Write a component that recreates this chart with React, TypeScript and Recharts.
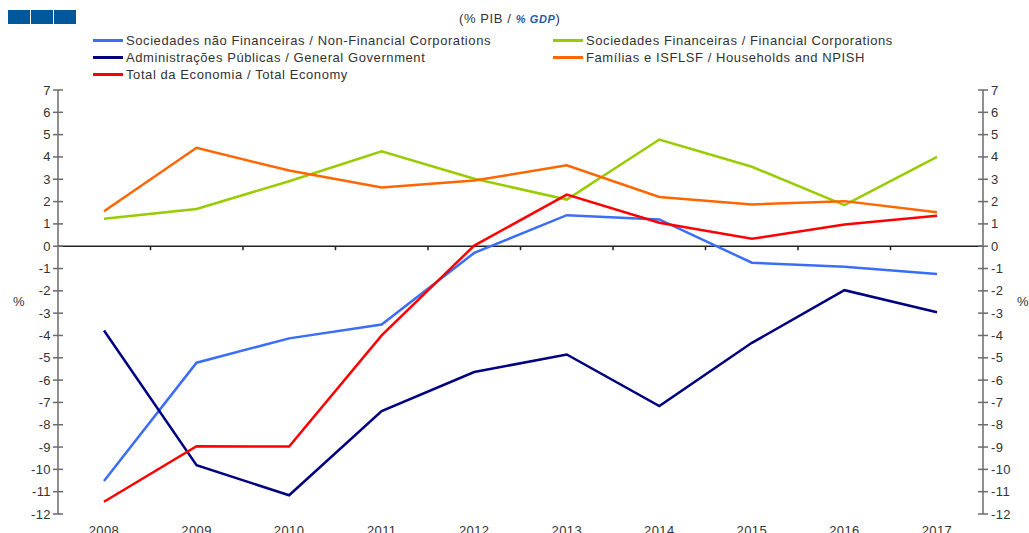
import { LineChart, Line, XAxis, YAxis, ReferenceLine } from "recharts";

const years = ["2008", "2009", "2010", "2011", "2012", "2013", "2014", "2015", "2016", "2017"];
const nonFinancial = [-10.52, -5.22, -4.13, -3.51, -0.3, 1.39, 1.2, -0.74, -0.92, -1.24];
const financial = [1.23, 1.67, 2.91, 4.25, 3.02, 2.09, 4.78, 3.56, 1.84, 4.0];
const government = [-3.78, -9.81, -11.16, -7.39, -5.64, -4.85, -7.16, -4.33, -1.97, -2.96];
const households = [1.57, 4.41, 3.39, 2.63, 2.94, 3.63, 2.21, 1.87, 2.02, 1.52];
const total = [-11.45, -8.96, -8.98, -4.0, 0.03, 2.31, 1.05, 0.33, 0.97, 1.37];
const yTicks = [7, 6, 5, 4, 3, 2, 1, 0, -1, -2, -3, -4, -5, -6, -7, -8, -9, -10, -11, -12];

// the last series is plotted on the right axis (same scale) so that axis gets its ticks
const series = [
  { key: "nonFinancial", label: "Sociedades não Financeiras / Non-Financial Corporations", color: "#3a6ef8", axis: "left" },
  { key: "financial", label: "Sociedades Financeiras / Financial Corporations", color: "#99cc00", axis: "left" },
  { key: "government", label: "Administrações Públicas / General Government", color: "#000080", axis: "left" },
  { key: "households", label: "Famílias e ISFLSF / Households and NPISH", color: "#ff6600", axis: "left" },
  { key: "total", label: "Total da Economia / Total Economy", color: "#ff0000", axis: "right" },
];

const data = years.map((year, i) => ({
  year,
  nonFinancial: nonFinancial[i],
  financial: financial[i],
  government: government[i],
  households: households[i],
  total: total[i],
}));

const font = "'Liberation Sans', Arial, sans-serif";
const axisColor = "#6b6b6b";
const textColor = "#333";
const TICK = 5;
const LEFT_MARGIN = 6;
const RIGHT_MARGIN = 8;

// zero line with the category tick marks hanging below it
const ZeroLine = (props: any) => {
  const { x1, y1, x2 } = props;
  const step = (x2 - x1) / years.length;
  return (
    <g>
      <line x1={x1} y1={y1} x2={x2} y2={y1} stroke="#222" strokeWidth={1.5} />
      {years.slice(1).map((_, i) => (
        <line
          key={i}
          x1={x1 + step * (i + 1)}
          x2={x1 + step * (i + 1)}
          y1={y1}
          y2={y1 + 4}
          stroke="#222"
          strokeWidth={1.5}
        />
      ))}
    </g>
  );
};

// y tick: label plus a tick mark crossing the axis line
const LeftTick = (props: any) => {
  const { x, y, payload } = props;
  const ax = x + LEFT_MARGIN;
  return (
    <g>
      <line x1={ax - TICK} x2={ax + TICK} y1={y} y2={y} stroke={axisColor} strokeWidth={1.5} />
      <text x={x - 1} y={y} dy="0.35em" textAnchor="end" fontSize={13} fill={textColor} letterSpacing={0.4}>
        {payload.value}
      </text>
    </g>
  );
};

const RightTick = (props: any) => {
  const { x, y, payload } = props;
  const ax = x - RIGHT_MARGIN;
  return (
    <g>
      <line x1={ax - TICK} x2={ax + TICK} y1={y} y2={y} stroke={axisColor} strokeWidth={1.5} />
      <text x={x} y={y} dy="0.35em" textAnchor="start" fontSize={13} fill={textColor} letterSpacing={0.4}>
        {payload.value}
      </text>
    </g>
  );
};

function LegendItem({ color, label, left, top }: { color: string; label: string; left: number; top: number }) {
  return (
    <div style={{ position: "absolute", left, top, display: "flex", alignItems: "center", whiteSpace: "nowrap" }}>
      <span style={{ display: "inline-block", width: 30, height: 3, background: color, marginRight: 3 }} />
      <span style={{ fontSize: 13, color: textColor, letterSpacing: 0.58 }}>{label}</span>
    </div>
  );
}

export default function App() {
  const legendPos = [
    { left: 93, top: 33 },
    { left: 553, top: 33 },
    { left: 93, top: 50 },
    { left: 553, top: 50 },
    { left: 93, top: 67 },
  ];

  return (
    <div
      style={{
        position: "absolute",
        left: 0,
        top: 0,
        width: 1029,
        height: 533,
        overflow: "hidden",
        background: "#fff",
        fontFamily: font,
      }}
    >
      {/* logo */}
      <div style={{ position: "absolute", left: 8, top: 10, display: "flex", gap: 1 }}>
        {[0, 1, 2].map((i) => (
          <div key={i} style={{ width: 22, height: 14, background: "#00589b" }} />
        ))}
      </div>

      <div
        style={{
          position: "absolute",
          left: 459,
          top: 11,
          fontSize: 13,
          color: textColor,
          whiteSpace: "nowrap",
          letterSpacing: 0.6,
        }}
      >
        (% PIB /{" "}
        <span style={{ color: "#1f5aa6", fontWeight: "bold", fontStyle: "italic", fontSize: 11 }}>% GDP</span>)
      </div>

      {series.map((s, i) => (
        <LegendItem key={s.key} color={s.color} label={s.label} left={legendPos[i].left} top={legendPos[i].top} />
      ))}

      <div style={{ position: "absolute", left: 13, top: 294, fontSize: 13, color: textColor }}>%</div>
      <div style={{ position: "absolute", left: 1017, top: 294, fontSize: 13, color: textColor }}>%</div>

      <div style={{ position: "absolute", left: 0, top: 0 }}>
        <LineChart
          width={1029}
          height={560}
          data={data}
          margin={{ top: 90, right: 6, bottom: 0, left: 18 }}
          style={{ fontFamily: font }}
        >
          <XAxis
            dataKey="year"
            height={46}
            padding={{ left: 46, right: 46 }}
            axisLine={false}
            tickLine={false}
            tickSize={0}
            tickMargin={12}
            interval={0}
            tick={{ fontSize: 13, fill: textColor, letterSpacing: 0.4 }}
          />
          <YAxis
            yAxisId="left"
            domain={[-12, 7]}
            ticks={yTicks}
            interval={0}
            width={40}
            tickSize={0}
            tickMargin={LEFT_MARGIN}
            axisLine={{ stroke: axisColor, strokeWidth: 1.5 }}
            tickLine={false}
            tick={<LeftTick />}
          />
          <YAxis
            yAxisId="right"
            orientation="right"
            domain={[-12, 7]}
            ticks={yTicks}
            interval={0}
            width={40}
            tickSize={0}
            tickMargin={RIGHT_MARGIN}
            axisLine={{ stroke: axisColor, strokeWidth: 1.5 }}
            tickLine={false}
            tick={<RightTick />}
          />
          <ReferenceLine y={0} yAxisId="left" shape={ZeroLine} />
          {series.map((s) => (
            <Line
              key={s.key}
              yAxisId={s.axis}
              type="linear"
              dataKey={s.key}
              stroke={s.color}
              strokeWidth={2.5}
              dot={false}
              activeDot={false}
              isAnimationActive={false}
            />
          ))}
        </LineChart>
      </div>
    </div>
  );
}
